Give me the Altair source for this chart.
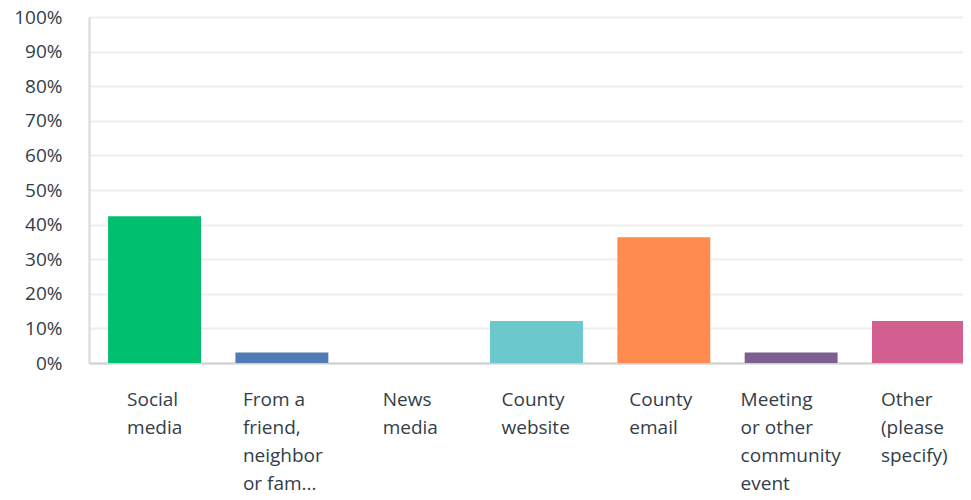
import altair as alt
import pandas as pd

categories = ["Social media", "From a friend, neighbor or fam...", "News media",
              "County website", "County email", "Meeting or other community event",
              "Other (please specify)"]
label_lines = ["Social|media", "From a|friend,|neighbor|or fam...", "News|media",
               "County|website", "County|email", "Meeting|or other|community|event",
               "Other|(please|specify)"]
values = [0.4242, 0.0303, 0.0, 0.1212, 0.3636, 0.0303, 0.1212]
colors = ["#00BF6F", "#507CB6", "#F9BE00", "#6BC8CD", "#FF8B4F", "#7D5E90", "#D25F90"]
label_offsets = [-27.5, -39, -26.5, -35, -34.5, -50.5, -37.5]
y_ticks = [0, 0.1, 0.2, 0.3, 0.4, 0.5, 0.6, 0.7, 0.8, 0.9, 1.0]

df = pd.DataFrame({"cat": label_lines, "value": values})

offset_expr = " : ".join(
    f"datum.value == '{lab}' ? {off}" for lab, off in zip(label_lines, label_offsets)
) + " : 0"

FONT = "Open Sans"
TXT = "#333E48"

chart = alt.Chart(df).mark_bar().encode(
    x=alt.X("cat:N", sort=label_lines,
            scale=alt.Scale(range=[0, 895], paddingInner=0.27, paddingOuter=0.15),
            axis=alt.Axis(title=None, labelAngle=0, labelAlign="left",
                          labelBaseline="alphabetic",
                          labelOffset={"expr": offset_expr},
                          labelExpr="split(datum.label, '|')",
                          labelLineHeight=28, labelPadding=42, ticks=False,
                          domainColor="#D0D0D0", domainWidth=2,
                          labelFont=FONT, labelFontSize=19, labelColor=TXT,
                          labelLimit=0, labelOverlap=False)),
    y=alt.Y("value:Q", scale=alt.Scale(domain=[0, 1]),
            axis=alt.Axis(title=None, format=".0%", values=y_ticks,
                          ticks=False, labelPadding=27, domainColor="#D8D8D8", domainWidth=2,
                          gridColor="#EDEEEE", gridWidth=2, labelOverlap=False,
                          labelFont=FONT, labelFontSize=19, labelColor=TXT)),
    color=alt.Color("cat:N", sort=label_lines,
                    scale=alt.Scale(domain=label_lines, range=colors), legend=None),
).properties(
    width=874, height=346,
    autosize=alt.AutoSizeParams(type="none"),
    padding={"left": 81, "top": 9, "right": 0, "bottom": 129},
).configure_view(stroke=None)

chart.save("out.html", embed_options={"renderer": "svg", "actions": False})
